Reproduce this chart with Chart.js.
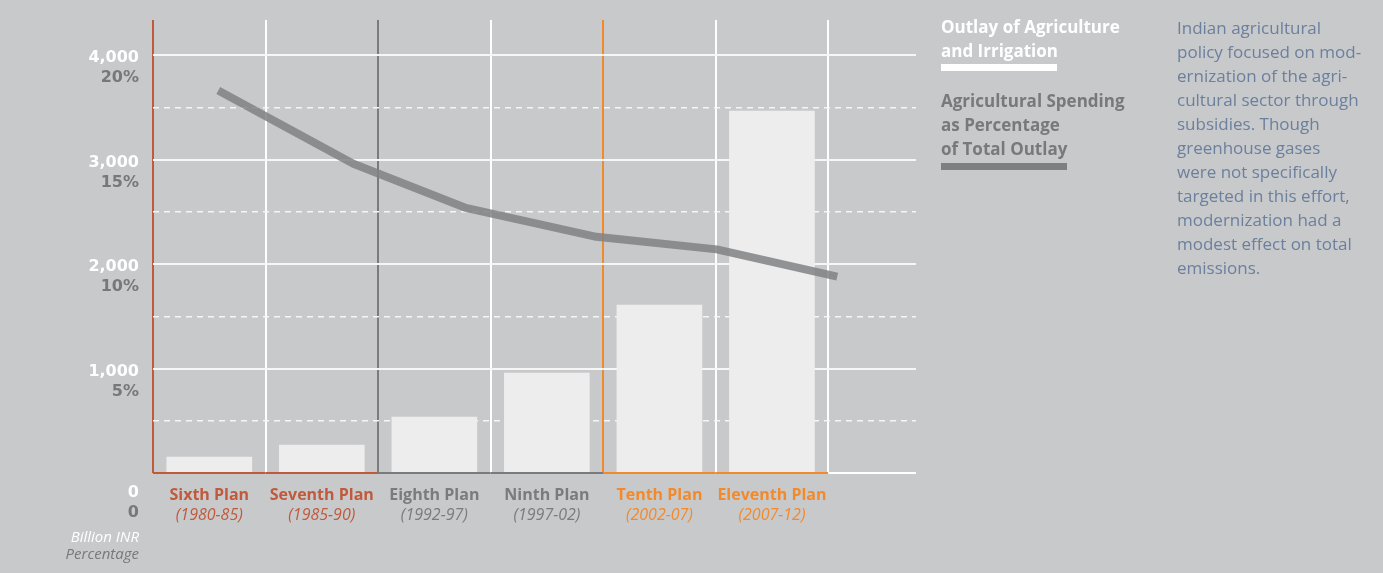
<!DOCTYPE html>
<html>
<head>
<meta charset="utf-8">
<title>Outlay of Agriculture and Irrigation</title>
<script src="https://cdn.jsdelivr.net/npm/chart.js@4/dist/chart.umd.min.js"></script>
<style>
  html, body { margin: 0; padding: 0; background: #c8c9cb; }
  body { width: 1383px; height: 573px; position: relative; overflow: hidden; font-family: "Open Sans", sans-serif; }
  #chart { position: absolute; left: 0; top: 0; }
  .legend { position: absolute; left: 941px; top: 15px; font-weight: 700; font-size: 17px; line-height: 24px; }
  .legend .white { color: #ffffff; }
  .legend .gray { color: #78797b; margin-top: 18px; }
  .legend .swatch { height: 7px; margin-top: 1px; }
  .note { position: absolute; left: 1177px; top: 16px; color: #6b7f9e; font-size: 17px; line-height: 24px; }
</style>
</head>
<body>
<canvas id="chart" width="1383" height="573"></canvas>

<div class="legend">
  <div class="white">Outlay of Agriculture<br>and Irrigation</div>
  <div class="swatch" style="width:116px;background:#ffffff"></div>
  <div class="gray">Agricultural Spending<br>as Percentage<br>of Total Outlay</div>
  <div class="swatch" style="width:126px;background:#7e7f81;margin-top:2px"></div>
</div>

<div class="note">
  Indian agricultural<br>
  policy focused on mod-<br>
  ernization of the agri-<br>
  cultural sector through<br>
  subsidies. Though<br>
  greenhouse gases<br>
  were not specifically<br>
  targeted in this effort,<br>
  modernization had a<br>
  modest effect on total<br>
  emissions.
</div>

<script>
// plans and their periods
const plans = ['Sixth Plan', 'Seventh Plan', 'Eighth Plan', 'Ninth Plan', 'Tenth Plan', 'Eleventh Plan'];
const periods = ['(1980-85)', '(1985-90)', '(1992-97)', '(1997-02)', '(2002-07)', '(2007-12)'];
const planColors = ['#bf5a3c', '#bf5a3c', '#7a7b7d', '#7a7b7d', '#f28a2c', '#f28a2c'];

// outlay of agriculture and irrigation (billion INR)
const outlay = [153, 268, 536, 957, 1608, 3464];

// agricultural spending as % of total outlay (x in plan units)
const shareX = [0.58, 1.78, 2.77, 3.94, 5.01, 6.08];
const sharePct = [18.3, 14.8, 12.7, 11.3, 10.7, 9.4];

// axis labels
const amountTicks = [0, 1000, 2000, 3000, 4000];
const amountLabels = ['0', '1,000', '2,000', '3,000', '4,000'];
const pctLabels = ['0', '5%', '10%', '15%', '20%'];

const yMax = 4335;
const xMax = 6.78;

// baseline under the bars, coloured per plan
const baselinePlugin = {
    id: 'baseline',
    afterDatasetsDraw(chart) {
        const ctx = chart.ctx;
        const x = chart.scales.x;
        const y0 = chart.scales.y.getPixelForValue(0);
        ctx.save();
        ctx.lineWidth = 2;
        for (let i = 0; i <= plans.length; i++) {
            ctx.strokeStyle = i < plans.length ? planColors[i] : '#ffffff';
            const a = x.getPixelForValue(i);
            const b = i < plans.length ? x.getPixelForValue(i + 1) : chart.chartArea.right;
            ctx.beginPath();
            ctx.moveTo(a, y0);
            ctx.lineTo(b, y0);
            ctx.stroke();
        }
        ctx.restore();
    }
};

// tick labels drawn by hand (two stacked labels per tick, different colours)
const labelsPlugin = {
    id: 'labels',
    afterDraw(chart) {
        const ctx = chart.ctx;
        const x = chart.scales.x;
        const y = chart.scales.y;
        const base = y.getPixelForValue(0);
        const right = chart.chartArea.left - 14;
        ctx.save();
        ctx.textBaseline = 'middle';

        // y labels
        ctx.textAlign = 'right';
        ctx.font = 'bold 16px "DejaVu Sans"';
        amountTicks.forEach((v, i) => {
            const py = y.getPixelForValue(v);
            const off = v === 0 ? 20 : 3;
            ctx.fillStyle = '#ffffff';
            ctx.fillText(amountLabels[i], right, py + off);
            ctx.fillStyle = '#77787a';
            ctx.fillText(pctLabels[i], right, py + off + 20);
        });
        ctx.font = 'italic 15px "Open Sans"';
        ctx.fillStyle = '#ffffff';
        ctx.fillText('Billion INR', right, base + 65);
        ctx.fillStyle = '#77787a';
        ctx.fillText('Percentage', right, base + 82);

        // x labels
        ctx.textAlign = 'center';
        plans.forEach((p, i) => {
            const cx = x.getPixelForValue(i + 0.5);
            ctx.fillStyle = planColors[i];
            ctx.font = 'bold 16px "Open Sans"';
            ctx.fillText(p, cx, base + 22);
            ctx.font = 'italic 16px "Open Sans"';
            ctx.fillText(periods[i], cx, base + 42);
        });
        ctx.restore();
    }
};

function verticalColor(ctx) {
    const v = ctx.tick ? ctx.tick.value : 0;
    if (v < plans.length && (v === 0 || planColors[v] !== planColors[v - 1])) {
        return planColors[v];
    }
    return '#ffffff';
}

new Chart(document.getElementById('chart'), {
    type: 'bar',
    data: {
        datasets: [{
            type: 'line',
            label: 'Agricultural Spending as Percentage of Total Outlay',
            data: shareX.map((v, i) => ({ x: v, y: sharePct[i] })),
            xAxisID: 'x',
            yAxisID: 'y1',
            borderColor: 'rgba(128, 129, 131, 0.85)',
            borderWidth: 8,
            borderCapStyle: 'butt',
            borderJoinStyle: 'round',
            pointRadius: 0,
            tension: 0,
            fill: false,
            order: 0
        }, {
            type: 'bar',
            label: 'Outlay of Agriculture and Irrigation',
            data: outlay.map((v, i) => ({ x: i + 0.5, y: v })),
            xAxisID: 'x',
            yAxisID: 'y',
            backgroundColor: '#ededed',
            borderWidth: 0,
            barThickness: 85,
            order: 1
        }]
    },
    options: {
        responsive: false,
        animation: false,
        devicePixelRatio: 1,
        layout: { padding: { left: 153, top: 20, right: 467, bottom: 100 } },
        plugins: {
            legend: { display: false },
            tooltip: { enabled: false }
        },
        scales: {
            x: {
                type: 'linear',
                min: 0,
                max: xMax,
                offset: false,
                afterBuildTicks: scale => {
                    scale.ticks = [0, 1, 2, 3, 4, 5, 6].map(v => ({ value: v }));
                },
                ticks: { display: false },
                grid: {
                    offset: false,
                    drawTicks: false,
                    color: verticalColor,
                    lineWidth: 2
                },
                border: { display: false }
            },
            y: {
                type: 'linear',
                min: 0,
                max: yMax,
                afterBuildTicks: scale => {
                    scale.ticks = [500, 1000, 1500, 2000, 2500, 3000, 3500, 4000].map(v => ({ value: v }));
                },
                ticks: { display: false },
                grid: {
                    drawTicks: false,
                    color: '#f6f6f6',
                    lineWidth: ctx => (ctx.tick && ctx.tick.value % 1000 ? 1.5 : 2)
                },
                border: {
                    display: false,
                    dash: ctx => (ctx.tick && ctx.tick.value % 1000 ? [6, 5] : [])
                }
            },
            y1: {
                type: 'linear',
                display: false,
                min: 0,
                max: yMax / 200
            }
        }
    },
    plugins: [baselinePlugin, labelsPlugin]
});
</script>
</body>
</html>
